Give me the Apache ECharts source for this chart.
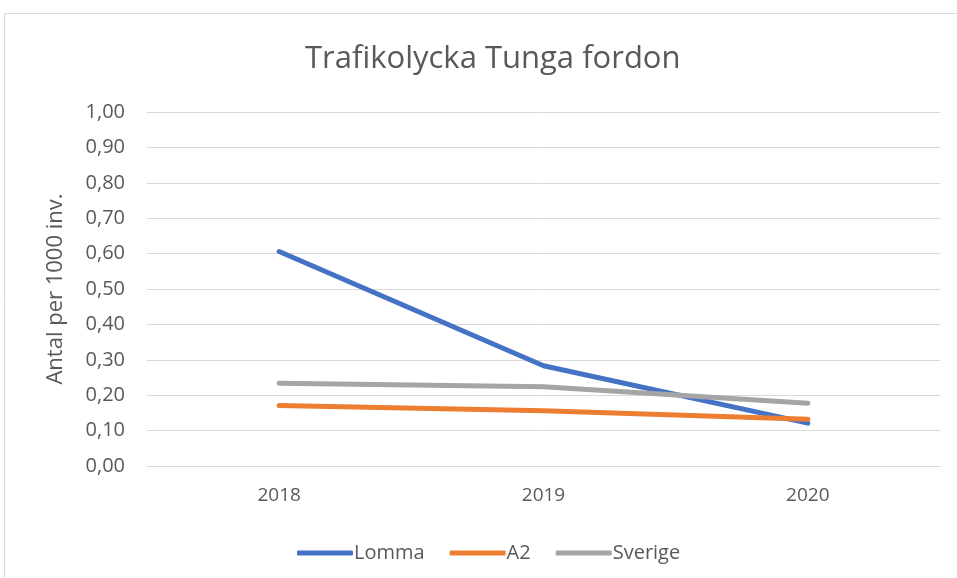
<!DOCTYPE html>
<html>
<head>
<meta charset="utf-8">
<script src="https://cdn.jsdelivr.net/npm/echarts@6/dist/echarts.min.js"></script>
<style>
  html, body { margin: 0; padding: 0; background: #fff; }
  #chart { width: 957px; height: 578px; }
</style>
</head>
<body>
<div id="chart"></div>
<script>
// data
const years = ["2018", "2019", "2020"];
const lomma = [0.606, 0.283, 0.121];
const a2 = [0.171, 0.156, 0.132];
const sverige = [0.234, 0.224, 0.177];

const textColor = "#595959";
const fontName = "Open Sans";

let chart = echarts.init(document.getElementById("chart"));

function lineSeries(name, data, color) {
  return {
    name: name,
    type: "line",
    data: data,
    symbol: "none",
    lineStyle: { width: 5, color: color, cap: "round", join: "round" },
    itemStyle: { color: color },
  };
}

let option = {
  animation: false,
  graphic: [{
    type: "rect",
    shape: { x: 4.5, y: 13.5, width: 1000, height: 700 },
    style: { fill: "none", stroke: "#d9d9d9", lineWidth: 1 },
    silent: true,
  }],
  title: {
    text: "Trafikolycka Tunga fordon",
    left: 300,
    top: 39,
    textStyle: { fontFamily: fontName, fontSize: 31, fontWeight: "normal", color: textColor },
  },
  legend: {
    data: ["Lomma", "A2", "Sverige"],
    top: 538,
    left: 292,
    itemWidth: 56,
    itemHeight: 5,
    itemGap: 25,
    icon: "roundRect",
    textStyle: { fontFamily: fontName, fontSize: 20, color: textColor, padding: [0, 0, 0, -4] },
  },
  grid: { left: 147, right: 17, top: 112, bottom: 112, containLabel: false },
  xAxis: {
    type: "category",
    data: years,
    boundaryGap: true,
    axisLine: { show: true, lineStyle: { color: "#d9d9d9", width: 1 } },
    axisTick: { show: false },
    axisLabel: { fontFamily: fontName, fontSize: 19, color: textColor, margin: 20 },
  },
  yAxis: {
    type: "value",
    min: 0,
    max: 1,
    interval: 0.1,
    name: "Antal per 1000 inv.",
    nameLocation: "middle",
    nameGap: 80,
    nameTextStyle: { fontFamily: fontName, fontSize: 22, color: textColor },
    axisLine: { show: false },
    axisTick: { show: false },
    axisLabel: {
      fontFamily: fontName, fontSize: 20, color: textColor, margin: 22,
      formatter: v => v.toFixed(2).replace(".", ","),
    },
    splitLine: { lineStyle: { color: "#d9d9d9", width: 1 } },
  },
  series: [
    lineSeries("Lomma", lomma, "#4472C4"),
    lineSeries("A2", a2, "#ED7D31"),
    lineSeries("Sverige", sverige, "#A5A5A5"),
  ],
};

chart.setOption(option);
</script>
</body>
</html>
